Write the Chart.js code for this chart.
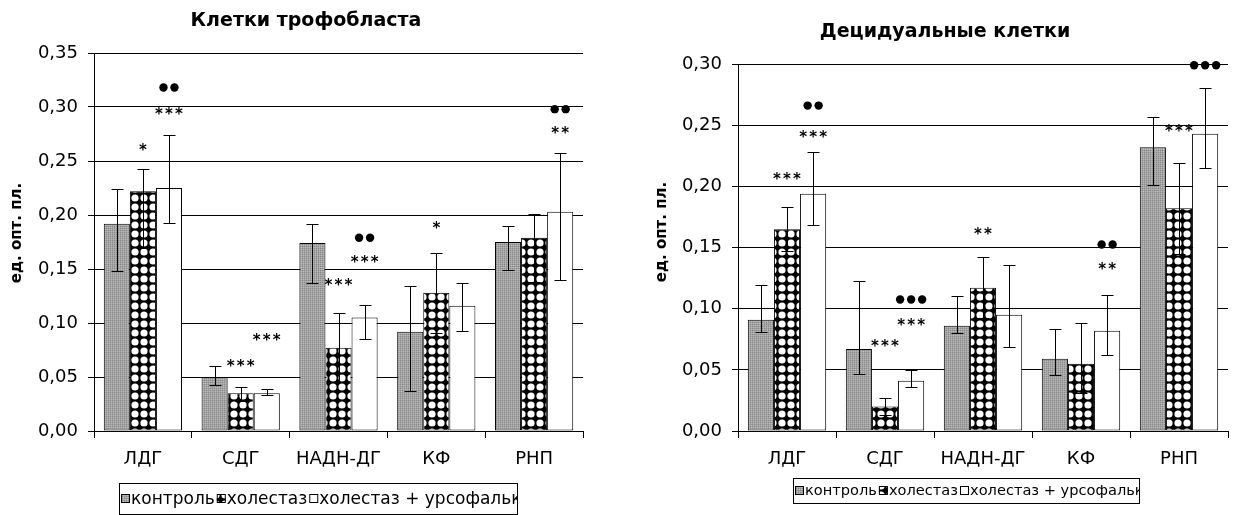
<!DOCTYPE html>
<html>
<head>
<meta charset="utf-8">
<script src="https://cdn.jsdelivr.net/npm/chart.js@4.4.1/dist/chart.umd.min.js"></script>
<style>
  html, body { margin: 0; padding: 0; background: #fff; }
  #wrap { position: relative; width: 1239px; height: 515px; overflow: hidden; }
  .box { position: absolute; top: 0; height: 515px; }
  #left { left: 0; width: 620px; }
  #right { left: 620px; width: 619px; }
</style>
</head>
<body>
<div id="wrap">
  <div class="box" id="left"><canvas id="troChart"></canvas></div>
  <div class="box" id="right"><canvas id="decChart"></canvas></div>
</div>
<script>
var categories = ['ЛДГ', 'СДГ', 'НАДН-ДГ', 'КФ', 'РНП'];
var seriesNames = ['контроль', 'холестаз', 'холестаз + урсофальк'];

// Клетки трофобласта
var troControl = [0.192, 0.050, 0.174, 0.092, 0.175];
var troCholestasis = [0.222, 0.035, 0.077, 0.128, 0.179];
var troUrso = [0.225, 0.035, 0.105, 0.116, 0.203];
var troControlLo = [0.148, 0.043, 0.137, 0.037, 0.149];
var troControlHi = [0.224, 0.060, 0.192, 0.134, 0.190];
var troCholestasisLo = [0.169, 0.028, 0.045, 0.091, 0.138];
var troCholestasisHi = [0.243, 0.041, 0.109, 0.165, 0.201];
var troUrsoLo = [0.193, 0.033, 0.085, 0.093, 0.140];
var troUrsoHi = [0.274, 0.039, 0.117, 0.137, 0.257];
// [category, series, sign, value]
var troMarks = [
  [0, 1, '*', 0.263], [0, 2, '***', 0.296], [0, 2, '●●', 0.318],
  [1, 1, '***', 0.063], [1, 2, '***', 0.087],
  [2, 1, '***', 0.138], [2, 2, '***', 0.159], [2, 2, '●●', 0.179],
  [3, 1, '*', 0.191],
  [4, 2, '**', 0.279], [4, 2, '●●', 0.298]
];

// Децидуальные клетки
var decControl = [0.091, 0.067, 0.086, 0.059, 0.232];
var decCholestasis = [0.165, 0.020, 0.117, 0.055, 0.182];
var decUrso = [0.194, 0.041, 0.095, 0.082, 0.243];
var decControlLo = [0.081, 0.047, 0.080, 0.046, 0.201];
var decControlHi = [0.119, 0.123, 0.110, 0.083, 0.257];
var decCholestasisLo = [0.147, 0.013, 0.092, 0.031, 0.145];
var decCholestasisHi = [0.183, 0.027, 0.142, 0.088, 0.219];
var decUrsoLo = [0.168, 0.036, 0.069, 0.062, 0.215];
var decUrsoHi = [0.228, 0.050, 0.136, 0.111, 0.280];
var decMarks = [
  [0, 1, '***', 0.208], [0, 2, '***', 0.243], [0, 2, '●●', 0.266],
  [1, 1, '***', 0.072], [1, 2, '***', 0.089], [1, 2, '●●●', 0.1075],
  [2, 1, '**', 0.163],
  [3, 2, '**', 0.135], [3, 2, '●●', 0.1525],
  [4, 1, '***', 0.248], [4, 2, '●●●', 0.299]
];

var FONT = "'DejaVu Sans', sans-serif";

function grayPattern() {
  var c = document.createElement('canvas'), g;
  c.width = 2; c.height = 2;
  g = c.getContext('2d');
  g.fillStyle = '#a4a4a4'; g.fillRect(0, 0, 2, 2);
  g.fillStyle = '#888888'; g.fillRect(0, 0, 1, 1);
  g.fillStyle = '#b8b8b8'; g.fillRect(1, 1, 1, 1);
  return g.createPattern(c, 'repeat');
}

function dotPattern() {
  var c = document.createElement('canvas'), g, s = 9;
  c.width = s; c.height = s;
  g = c.getContext('2d');
  g.fillStyle = '#000'; g.fillRect(0, 0, s, s);
  g.fillStyle = '#fff';
  [[0, 0], [s, 0], [0, s], [s, s]].forEach(function(p) {
    g.beginPath(); g.arc(p[0], p[1], 3.6, 0, Math.PI * 2); g.fill();
  });
  return g.createPattern(c, 'repeat');
}

var fills = [grayPattern(), dotPattern(), '#ffffff'];

function fmt(v) { return v.toFixed(2).replace('.', ','); }

function buildDatasets(vals, lo, hi) {
  return seriesNames.map(function(name, i) {
    return {
      label: name,
      data: vals[i],
      errLo: lo[i],
      errHi: hi[i],
      backgroundColor: fills[i],
      borderColor: '#000',
      borderWidth: 1,
      borderSkipped: false
    };
  });
}

function makeExtras(cfg) {
  return {
    id: 'extras',
    afterDatasetsDraw: function(chart) {
      var ctx = chart.ctx, ys = chart.scales.y;
      ctx.save();
      ctx.strokeStyle = '#000';
      ctx.lineWidth = 1;
      chart.data.datasets.forEach(function(ds, i) {
        chart.getDatasetMeta(i).data.forEach(function(bar, j) {
          var x = Math.round(bar.x) + 0.5;
          var t = Math.round(ys.getPixelForValue(ds.errHi[j])) + 0.5;
          var b = Math.round(ys.getPixelForValue(ds.errLo[j])) + 0.5;
          ctx.beginPath();
          ctx.moveTo(x, t); ctx.lineTo(x, b);
          ctx.moveTo(x - 6, t); ctx.lineTo(x + 6, t);
          ctx.moveTo(x - 6, b); ctx.lineTo(x + 6, b);
          ctx.stroke();
        });
      });
      ctx.fillStyle = '#000';
      ctx.textAlign = 'center';
      ctx.textBaseline = 'middle';
      ctx.font = 'bold 15px ' + FONT;
      cfg.marks.forEach(function(m) {
        var bar = chart.getDatasetMeta(m[1]).data[m[0]];
        var py = ys.getPixelForValue(m[3]);
        var n = m[2].length, k;
        if (m[2].charAt(0) === '●') {
          for (k = 0; k < n; k++) {
            ctx.beginPath();
            ctx.arc(bar.x + (k - (n - 1) / 2) * 11, py, 4.2, 0, Math.PI * 2);
            ctx.fill();
          }
        } else {
          for (k = 0; k < n; k++) {
            ctx.fillText('*', bar.x + (k - (n - 1) / 2) * 10, py + 4);
          }
        }
      });
      ctx.restore();
    },
    afterDraw: function(chart) {
      var ctx = chart.ctx, lg = cfg.legend, x, i;
      ctx.save();
      ctx.fillStyle = '#000';
      ctx.textAlign = 'center';
      ctx.textBaseline = 'middle';
      ctx.font = 'bold 19px ' + FONT;
      ctx.fillText(cfg.title, cfg.titleX, cfg.titleY);

      ctx.save();
      ctx.translate(cfg.yTitleX, cfg.yTitleY);
      ctx.rotate(-Math.PI / 2);
      ctx.font = 'bold 15px ' + FONT;
      ctx.fillText('ед. опт. пл.', 0, 0);
      ctx.restore();

      ctx.strokeStyle = '#000';
      ctx.lineWidth = 1;
      ctx.strokeRect(lg.x + 0.5, lg.y + 0.5, lg.w, lg.h);
      ctx.beginPath();
      ctx.rect(lg.x + 1, lg.y + 1, lg.w - 1, lg.h - 1);
      ctx.clip();
      ctx.font = lg.size + 'px ' + FONT;
      ctx.textAlign = 'left';
      x = lg.x + 2;
      for (i = 0; i < chart.data.datasets.length; i++) {
        var ds = chart.data.datasets[i];
        var cy = lg.y + lg.h / 2;
        ctx.fillStyle = ds.backgroundColor;
        ctx.fillRect(x, Math.round(cy - 4.5), 9, 9);
        ctx.strokeRect(x + 0.5, Math.round(cy - 4.5) + 0.5, 8, 8);
        x += 10;
        ctx.fillStyle = '#000';
        ctx.fillText(ds.label, x, cy + 1);
        x += ctx.measureText(ds.label).width + 2;
      }
      ctx.restore();
    }
  };
}

function makeChart(id, vals, lo, hi, yMax, box) {
  return new Chart(document.getElementById(id).getContext('2d'), {
    type: 'bar',
    data: { labels: categories, datasets: buildDatasets(vals, lo, hi) },
    options: {
      responsive: true,
      maintainAspectRatio: false,
      animation: false,
      layout: { padding: { top: box.top, right: box.right, left: 0, bottom: 0 } },
      datasets: { bar: { categoryPercentage: 0.8, barPercentage: 1.0 } },
      plugins: { legend: { display: false }, title: { display: false }, tooltip: { enabled: false } },
      scales: {
        x: {
          offset: true,
          grid: { offset: true, drawOnChartArea: false, color: '#000', tickColor: '#000', tickLength: 7 },
          border: { color: '#000' },
          ticks: { color: '#000', font: { family: FONT, size: 18 }, padding: 11, maxRotation: 0 },
          afterFit: function(s) { s.height = 515 - box.bottom; }
        },
        y: {
          min: 0,
          max: yMax,
          grid: { color: '#000', tickColor: '#000', tickLength: 6 },
          border: { color: '#000' },
          ticks: { stepSize: 0.05, color: '#000', font: { family: FONT, size: 18 }, padding: box.tickPad, callback: fmt },
          afterFit: function(s) { s.width = box.left; }
        }
      }
    },
    plugins: [makeExtras(box)]
  });
}

makeChart('troChart',
  [troControl, troCholestasis, troUrso],
  [troControlLo, troCholestasisLo, troUrsoLo],
  [troControlHi, troCholestasisHi, troUrsoHi],
  0.35,
  { left: 94, right: 37, top: 53, bottom: 431, tickPad: 10,
    title: 'Клетки трофобласта', titleX: 306, titleY: 21,
    yTitleX: 17, yTitleY: 233,
    marks: troMarks,
    legend: { x: 119, y: 483, w: 398, h: 31, size: 17 } });

makeChart('decChart',
  [decControl, decCholestasis, decUrso],
  [decControlLo, decCholestasisLo, decUrsoLo],
  [decControlHi, decCholestasisHi, decUrsoHi],
  0.30,
  { left: 118, right: 11, top: 64, bottom: 431, tickPad: 10,
    title: 'Децидуальные клетки', titleX: 325, titleY: 32,
    yTitleX: 42, yTitleY: 232,
    marks: decMarks,
    legend: { x: 173, y: 478, w: 346, h: 25, size: 14.6 } });
</script>
</body>
</html>
